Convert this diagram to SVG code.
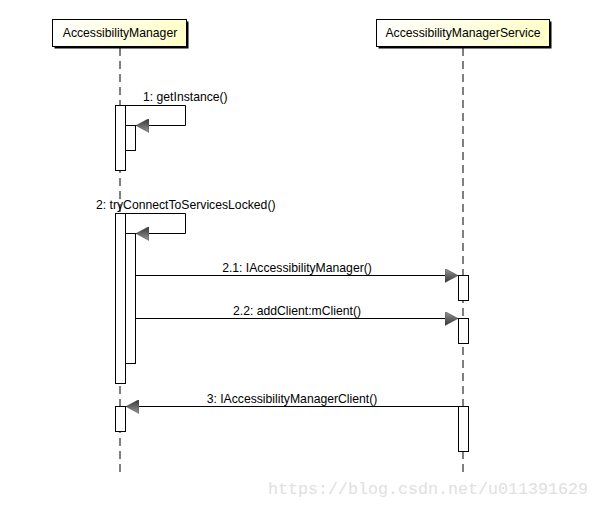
<svg xmlns="http://www.w3.org/2000/svg" width="599" height="508" viewBox="0 0 599 508">
<style>
.lbl{font-family:"Liberation Sans",Arial,sans-serif;font-size:12.2px;fill:#000}
.life{stroke:#000;stroke-width:1;stroke-dasharray:8,5;fill:none}
.act{fill:#fff;stroke:#000;stroke-width:1}
.msg{stroke:#000;stroke-width:1;fill:none}
.box{fill:url(#g);stroke:#000;stroke-width:1}
</style>
<defs>
<linearGradient id="g" x1="0" y1="0" x2="1" y2="0">
<stop offset="0" stop-color="#ffffff"/>
<stop offset="1" stop-color="#ffffc8"/>
</linearGradient>
<linearGradient id="ag" x1="0" y1="0" x2="0" y2="1">
<stop offset="0" stop-color="#999"/>
<stop offset="1" stop-color="#333"/>
</linearGradient>
<marker id="ar" markerWidth="14" markerHeight="14" refX="13" refY="7" orient="auto" markerUnits="userSpaceOnUse">
<path d="M0,0 L13,7 L0,14 Z" fill="url(#ag)" stroke="#444" stroke-width="0.5"/>
</marker>
</defs>
<rect width="599" height="508" fill="#fff"/>
<g id="lifelines">
<line class="life" x1="120" y1="48" x2="120" y2="472"/>
<line class="life" x1="463" y1="48" x2="463" y2="472"/>
</g>
<g id="node-am">
<rect x="54.5" y="21.5" width="134" height="27" fill="#000"/>
<rect class="box" x="52.5" y="19.5" width="134" height="27"/>
<text class="lbl" x="120" y="37" text-anchor="middle">AccessibilityManager</text>
</g>
<g id="node-ams">
<rect x="378.5" y="21.5" width="173" height="27" fill="#000"/>
<rect class="box" x="376.5" y="19.5" width="173" height="27"/>
<text class="lbl" x="463" y="37" text-anchor="middle">AccessibilityManagerService</text>
</g>
<g id="activations">
<rect class="act" x="115.5" y="105.5" width="10" height="65"/>
<rect class="act" x="125.5" y="125.5" width="10" height="25"/>
<rect class="act" x="115.5" y="213.5" width="10" height="170"/>
<rect class="act" x="125.5" y="233.5" width="10" height="130"/>
<rect class="act" x="458.5" y="275.5" width="10" height="25"/>
<rect class="act" x="458.5" y="318.5" width="10" height="25"/>
<rect class="act" x="115.5" y="406.5" width="10" height="25"/>
<rect class="act" x="458.5" y="406.5" width="10" height="45"/>
</g>
<g id="connectors">
<path class="msg" d="M125.5,105.5 H185.5 V125.5 H136" marker-end="url(#ar)"/>
<text class="lbl" x="143" y="101">1: getInstance()</text>
<path class="msg" d="M125.5,213.5 H185.5 V233.5 H136" marker-end="url(#ar)"/>
<text class="lbl" x="96" y="209">2: tryConnectToServicesLocked()</text>
<path class="msg" d="M135.5,275.5 H458" marker-end="url(#ar)"/>
<text class="lbl" x="297" y="272" text-anchor="middle">2.1: IAccessibilityManager()</text>
<path class="msg" d="M135.5,318.5 H458" marker-end="url(#ar)"/>
<text class="lbl" x="297" y="315" text-anchor="middle">2.2: addClient:mClient()</text>
<path class="msg" d="M458.5,406.5 H126" marker-end="url(#ar)"/>
<text class="lbl" x="292" y="403" text-anchor="middle">3: IAccessibilityManagerClient()</text>
</g>
<text x="268" y="494" font-family="Liberation Mono,monospace" font-size="16.5" fill="#e0e0e0" textLength="320" lengthAdjust="spacingAndGlyphs">https://blog.csdn.net/u011391629</text>
</svg>
